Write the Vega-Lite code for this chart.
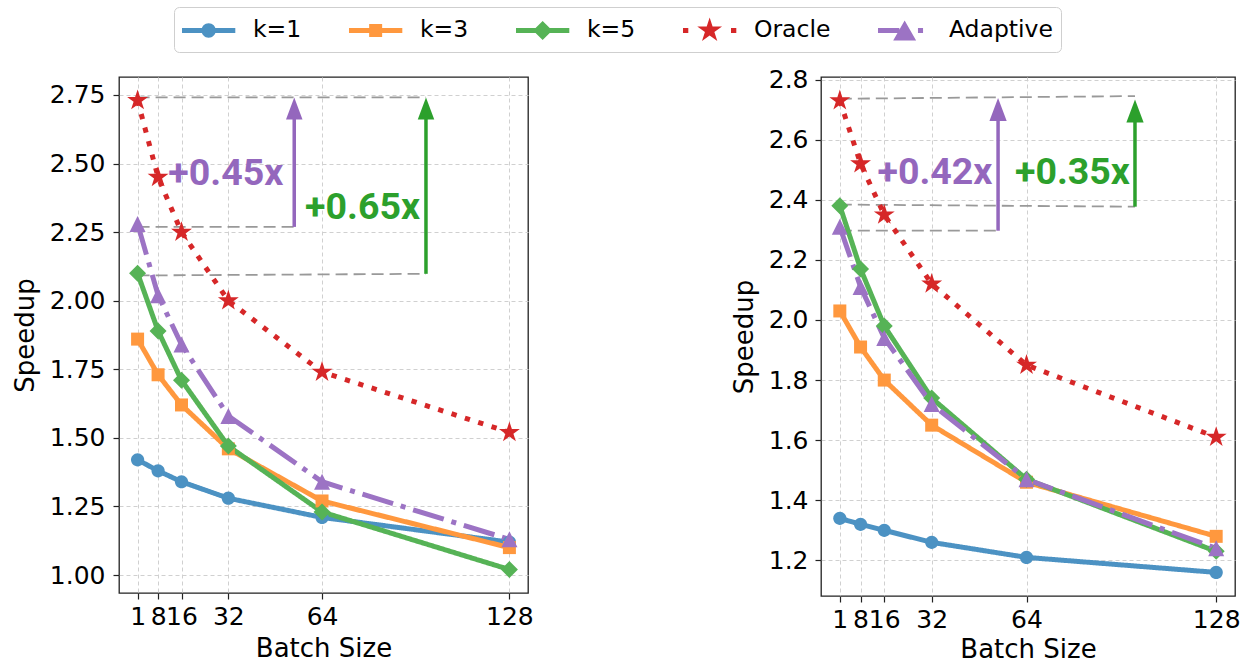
{
  "$schema": "https://vega.github.io/schema/vega-lite/v6.json",
  "background": "white",
  "padding": {"left": 11, "top": 6, "right": 2, "bottom": 0},
  "spacing": 196,
  "config": {
    "font": "DejaVu Sans",
    "view": {"stroke": "#222222", "strokeWidth": 1.3},
    "axis": {
      "labelFont": "DejaVu Sans", "labelFontSize": 25, "labelColor": "black",
      "titleFont": "DejaVu Sans", "titleFontSize": 26, "titleFontWeight": "normal", "titleColor": "black",
      "tickColor": "#222222", "tickSize": 6, "tickWidth": 1.2, "domain": false,
      "gridColor": "#d0d0d0", "gridDash": [4, 3], "gridWidth": 1
    }
  },
  "datasets": {
    "L": [
      {"x": 1, "y": 1.42, "s": "k=1"}, {"x": 8, "y": 1.38, "s": "k=1"}, {"x": 16, "y": 1.34, "s": "k=1"}, {"x": 32, "y": 1.28, "s": "k=1"}, {"x": 64, "y": 1.21, "s": "k=1"}, {"x": 128, "y": 1.12, "s": "k=1"},
      {"x": 1, "y": 1.86, "s": "k=3"}, {"x": 8, "y": 1.73, "s": "k=3"}, {"x": 16, "y": 1.62, "s": "k=3"}, {"x": 32, "y": 1.46, "s": "k=3"}, {"x": 64, "y": 1.27, "s": "k=3"}, {"x": 128, "y": 1.10, "s": "k=3"},
      {"x": 1, "y": 2.10, "s": "k=5"}, {"x": 8, "y": 1.89, "s": "k=5"}, {"x": 16, "y": 1.71, "s": "k=5"}, {"x": 32, "y": 1.47, "s": "k=5"}, {"x": 64, "y": 1.23, "s": "k=5"}, {"x": 128, "y": 1.02, "s": "k=5"},
      {"x": 1, "y": 2.73, "s": "Oracle"}, {"x": 8, "y": 2.45, "s": "Oracle"}, {"x": 16, "y": 2.25, "s": "Oracle"}, {"x": 32, "y": 2.00, "s": "Oracle"}, {"x": 64, "y": 1.74, "s": "Oracle"}, {"x": 128, "y": 1.52, "s": "Oracle"},
      {"x": 1, "y": 2.28, "s": "Adaptive"}, {"x": 8, "y": 2.02, "s": "Adaptive"}, {"x": 16, "y": 1.84, "s": "Adaptive"}, {"x": 32, "y": 1.58, "s": "Adaptive"}, {"x": 64, "y": 1.34, "s": "Adaptive"}, {"x": 128, "y": 1.13, "s": "Adaptive"}
    ],
    "R": [
      {"x": 1, "y": 1.34, "s": "k=1"}, {"x": 8, "y": 1.32, "s": "k=1"}, {"x": 16, "y": 1.30, "s": "k=1"}, {"x": 32, "y": 1.26, "s": "k=1"}, {"x": 64, "y": 1.21, "s": "k=1"}, {"x": 128, "y": 1.16, "s": "k=1"},
      {"x": 1, "y": 2.03, "s": "k=3"}, {"x": 8, "y": 1.91, "s": "k=3"}, {"x": 16, "y": 1.80, "s": "k=3"}, {"x": 32, "y": 1.65, "s": "k=3"}, {"x": 64, "y": 1.46, "s": "k=3"}, {"x": 128, "y": 1.28, "s": "k=3"},
      {"x": 1, "y": 2.38, "s": "k=5"}, {"x": 8, "y": 2.17, "s": "k=5"}, {"x": 16, "y": 1.98, "s": "k=5"}, {"x": 32, "y": 1.74, "s": "k=5"}, {"x": 64, "y": 1.47, "s": "k=5"}, {"x": 128, "y": 1.23, "s": "k=5"},
      {"x": 1, "y": 2.73, "s": "Oracle"}, {"x": 8, "y": 2.52, "s": "Oracle"}, {"x": 16, "y": 2.35, "s": "Oracle"}, {"x": 32, "y": 2.12, "s": "Oracle"}, {"x": 64, "y": 1.85, "s": "Oracle"}, {"x": 128, "y": 1.61, "s": "Oracle"},
      {"x": 1, "y": 2.31, "s": "Adaptive"}, {"x": 8, "y": 2.11, "s": "Adaptive"}, {"x": 16, "y": 1.94, "s": "Adaptive"}, {"x": 32, "y": 1.72, "s": "Adaptive"}, {"x": 64, "y": 1.47, "s": "Adaptive"}, {"x": 128, "y": 1.24, "s": "Adaptive"}
    ]
  },
  "hconcat": [
    {
      "width": 409,
      "height": 516,
      "encoding": {
        "x": {"field": "x", "type": "quantitative", "scale": {"domain": [-5.35, 134.35], "nice": false, "zero": false},
              "axis": {"title": "Batch Size", "values": [1, 8, 16, 32, 64, 128], "labelOverlap": false, "labelFlush": false, "labelBound": false, "labelPadding": 5, "titlePadding": 6}},
        "y": {"field": "y", "type": "quantitative", "scale": {"domain": [0.9345, 2.8155], "nice": false, "zero": false},
              "axis": {"title": "Speedup", "values": [1.0, 1.25, 1.5, 1.75, 2.0, 2.25, 2.5, 2.75], "format": ".2f", "labelOverlap": false, "labelFlush": false, "labelPadding": 8, "titlePadding": 11}}
      },
      "layer": [
        {
          "data": {"values": [
            {"x": 1, "y": 2.741, "x2": 99.5, "y2": 2.741},
            {"x": 1, "y": 2.269, "x2": 54.5, "y2": 2.269},
            {"x": 1, "y": 2.092, "x2": 99.5, "y2": 2.098}
          ]},
          "mark": {"type": "rule", "color": "#999999", "strokeWidth": 1.8, "strokeDash": [12, 6]},
          "encoding": {"x2": {"field": "x2"}, "y2": {"field": "y2"}}
        },
        {
          "data": {"name": "L"},
          "mark": {"type": "line", "strokeWidth": 5},
          "encoding": {
            "stroke": {"field": "s", "type": "nominal", "legend": null,
                       "scale": {"domain": ["Adaptive", "Oracle", "k=5", "k=3", "k=1"], "range": ["#9c73c4", "#d62728", "#56b356", "#ff983e", "#4c92c3"]}},
            "strokeDash": {"field": "s", "type": "nominal", "legend": null,
                           "scale": {"domain": ["Adaptive", "Oracle", "k=5", "k=3", "k=1"], "range": [[32, 8, 5, 8], [5.3, 8.7], [1, 0], [1, 0], [1, 0]]}}
          }
        },
        {
          "data": {"name": "L"}, "transform": [{"filter": "datum.s === 'k=1'"}],
          "mark": {"type": "point", "filled": true, "opacity": 1, "strokeWidth": 0, "size": 400, "color": "#4c92c3", "shape": "M-0.66,0A0.66,0.66 0 1,1 0.66,0A0.66,0.66 0 1,1 -0.66,0Z"},
          "encoding": {}
        },
        {
          "data": {"name": "L"}, "transform": [{"filter": "datum.s === 'k=3'"}],
          "mark": {"type": "point", "filled": true, "opacity": 1, "strokeWidth": 0, "size": 400, "color": "#ff983e", "shape": "M-0.65,-0.65L0.65,-0.65L0.65,0.65L-0.65,0.65Z"},
          "encoding": {}
        },
        {
          "data": {"name": "L"}, "transform": [{"filter": "datum.s === 'k=5'"}],
          "mark": {"type": "point", "filled": true, "opacity": 1, "strokeWidth": 0, "size": 400, "color": "#56b356", "shape": "M-0.85,0L0,-0.85L0.85,0L0,0.85Z"},
          "encoding": {}
        },
        {
          "data": {"name": "L"}, "transform": [{"filter": "datum.s === 'Oracle'"}],
          "mark": {"type": "point", "filled": true, "opacity": 1, "strokeWidth": 0, "size": 400, "color": "#d62728", "shape": "M0,-1.1L0.247,-0.34L1.046,-0.34L0.4,0.13L0.647,0.89L0,0.42L-0.647,0.89L-0.4,0.13L-1.046,-0.34L-0.247,-0.34Z"},
          "encoding": {}
        },
        {
          "data": {"name": "L"}, "transform": [{"filter": "datum.s === 'Adaptive'"}],
          "mark": {"type": "point", "filled": true, "opacity": 1, "strokeWidth": 0, "size": 400, "color": "#9c73c4", "shape": "M0,-0.8L0.8,0.8L-0.8,0.8Z"},
          "encoding": {}
        },
        {
          "data": {"name": "L"},
          "mark": {"type": "point", "filled": true, "opacity": 0},
          "encoding": {
            "color": {"field": "s", "type": "nominal",
                      "scale": {"domain": ["k=1", "k=3", "k=5", "Oracle", "Adaptive"], "range": ["#4c92c3", "#ff983e", "#56b356", "#d62728", "#9c73c4"]},
                      "legend": {"title": null, "orient": "none", "legendX": 55, "legendY": -70, "direction": "horizontal",
                                 "symbolSize": 900, "symbolStrokeWidth": 0, "symbolOpacity": 1, "symbolOffset": 11.65,
                                 "labelFont": "DejaVu Sans", "labelFontSize": 23.5, "labelColor": "black", "labelOffset": 29.3,
                                 "columnPadding": 46, "padding": 8, "strokeColor": "#cfcfcf", "fillColor": "white", "cornerRadius": 5}},
            "shape": {"field": "s", "type": "nominal",
                      "scale": {"domain": ["k=1", "k=3", "k=5", "Oracle", "Adaptive"], "range": [
                        "M-1.777,-0.16L-0.44,-0.16L-0.44,0.16L-1.777,0.16Z M0.44,-0.16L1.777,-0.16L1.777,0.16L0.44,0.16Z M-0.48,0A0.48,0.48 0 1,1 0.48,0A0.48,0.48 0 1,1 -0.48,0Z M0,0.87L0.001,0.87",
                        "M-1.777,-0.16L-0.43,-0.16L-0.43,0.16L-1.777,0.16Z M0.43,-0.16L1.777,-0.16L1.777,0.16L0.43,0.16Z M-0.433,-0.433L0.433,-0.433L0.433,0.433L-0.433,0.433Z M0,0.87L0.001,0.87",
                        "M-1.777,-0.16L-0.47,-0.16L-0.47,0.16L-1.777,0.16Z M0.47,-0.16L1.777,-0.16L1.777,0.16L0.47,0.16Z M-0.64,0L0,-0.64L0.64,0L0,0.64Z M0,0.87L0.001,0.87",
                        "M-1.777,-0.16L-1.424,-0.16L-1.424,0.16L-1.777,0.16Z M1.424,-0.16L1.777,-0.16L1.777,0.16L1.424,0.16Z M0,-0.867L0.195,-0.268L0.825,-0.268L0.315,0.102L0.51,0.701L0,0.331L-0.51,0.701L-0.315,0.102L-0.825,-0.268L-0.195,-0.268Z M0,0.87L0.001,0.87",
                        "M-1.777,-0.16L-0.355,-0.16L-0.355,0.16L-1.777,0.16Z M0,-0.666L0.764,0.666L-0.764,0.666Z M0.888,-0.16L1.226,-0.16L1.226,0.16L0.888,0.16Z M0,0.87L0.001,0.87"
                      ]},
                      "legend": {"title": null, "orient": "none", "legendX": 55, "legendY": -70, "direction": "horizontal",
                                 "symbolSize": 900, "symbolStrokeWidth": 0, "symbolOpacity": 1, "symbolOffset": 11.65,
                                 "labelFont": "DejaVu Sans", "labelFontSize": 23.5, "labelColor": "black", "labelOffset": 29.3,
                                 "columnPadding": 46, "padding": 8, "strokeColor": "#cfcfcf", "fillColor": "white", "cornerRadius": 5}}
          }
        },
        {
          "data": {"values": [{"x": 54.5, "y": 2.269, "y2": 2.68}]},
          "mark": {"type": "rule", "color": "#9467bd", "strokeWidth": 3.5},
          "encoding": {"y2": {"field": "y2"}}
        },
        {
          "data": {"values": [{"x": 99.5, "y": 2.098, "y2": 2.68}]},
          "mark": {"type": "rule", "color": "#2ca02c", "strokeWidth": 3.5},
          "encoding": {"y2": {"field": "y2"}}
        },
        {
          "data": {"values": [{"x": 54.5, "y": 2.741}]},
          "mark": {"type": "point", "filled": true, "opacity": 1, "color": "#9467bd", "strokeWidth": 0, "size": 484, "shape": "M0,0L-0.75,2L0.75,2Z"},
          "encoding": {}
        },
        {
          "data": {"values": [{"x": 99.5, "y": 2.741}]},
          "mark": {"type": "point", "filled": true, "opacity": 1, "color": "#2ca02c", "strokeWidth": 0, "size": 484, "shape": "M0,0L-0.75,2L0.75,2Z"},
          "encoding": {}
        },
        {
          "data": {"values": [{"x": 11.5, "y": 2.462, "t": "+0.45x"}]},
          "mark": {"type": "text", "align": "left", "baseline": "middle", "font": "Roboto", "fontWeight": "bold", "fontSize": 37.5, "color": "#9467bd"},
          "encoding": {"text": {"field": "t"}}
        },
        {
          "data": {"values": [{"x": 58.2, "y": 2.337, "t": "+0.65x"}]},
          "mark": {"type": "text", "align": "left", "baseline": "middle", "font": "Roboto", "fontWeight": "bold", "fontSize": 37.5, "color": "#2ca02c"},
          "encoding": {"text": {"field": "t"}}
        }
      ]
    },
    {
      "width": 414,
      "height": 519,
      "encoding": {
        "x": {"field": "x", "type": "quantitative", "scale": {"domain": [-5.35, 134.35], "nice": false, "zero": false},
              "axis": {"title": "Batch Size", "values": [1, 8, 16, 32, 64, 128], "labelOverlap": false, "labelFlush": false, "labelBound": false, "labelPadding": 5, "titlePadding": 4}},
        "y": {"field": "y", "type": "quantitative", "scale": {"domain": [1.0815, 2.8085], "nice": false, "zero": false},
              "axis": {"title": "Speedup", "values": [1.2, 1.4, 1.6, 1.8, 2.0, 2.2, 2.4, 2.6, 2.8], "format": ".1f", "labelOverlap": false, "labelFlush": false, "labelPadding": 7, "titlePadding": 11}}
      },
      "layer": [
        {
          "data": {"values": [
            {"x": 1, "y": 2.736, "x2": 100.6, "y2": 2.745},
            {"x": 1, "y": 2.297, "x2": 54.4, "y2": 2.297},
            {"x": 1, "y": 2.384, "x2": 100.6, "y2": 2.377}
          ]},
          "mark": {"type": "rule", "color": "#999999", "strokeWidth": 1.8, "strokeDash": [12, 6]},
          "encoding": {"x2": {"field": "x2"}, "y2": {"field": "y2"}}
        },
        {
          "data": {"name": "R"},
          "mark": {"type": "line", "strokeWidth": 5},
          "encoding": {
            "stroke": {"field": "s", "type": "nominal", "legend": null,
                       "scale": {"domain": ["Adaptive", "Oracle", "k=5", "k=3", "k=1"], "range": ["#9c73c4", "#d62728", "#56b356", "#ff983e", "#4c92c3"]}},
            "strokeDash": {"field": "s", "type": "nominal", "legend": null,
                           "scale": {"domain": ["Adaptive", "Oracle", "k=5", "k=3", "k=1"], "range": [[32, 8, 5, 8], [5.3, 8.7], [1, 0], [1, 0], [1, 0]]}}
          }
        },
        {
          "data": {"name": "R"}, "transform": [{"filter": "datum.s === 'k=1'"}],
          "mark": {"type": "point", "filled": true, "opacity": 1, "strokeWidth": 0, "size": 400, "color": "#4c92c3", "shape": "M-0.66,0A0.66,0.66 0 1,1 0.66,0A0.66,0.66 0 1,1 -0.66,0Z"},
          "encoding": {}
        },
        {
          "data": {"name": "R"}, "transform": [{"filter": "datum.s === 'k=3'"}],
          "mark": {"type": "point", "filled": true, "opacity": 1, "strokeWidth": 0, "size": 400, "color": "#ff983e", "shape": "M-0.65,-0.65L0.65,-0.65L0.65,0.65L-0.65,0.65Z"},
          "encoding": {}
        },
        {
          "data": {"name": "R"}, "transform": [{"filter": "datum.s === 'k=5'"}],
          "mark": {"type": "point", "filled": true, "opacity": 1, "strokeWidth": 0, "size": 400, "color": "#56b356", "shape": "M-0.85,0L0,-0.85L0.85,0L0,0.85Z"},
          "encoding": {}
        },
        {
          "data": {"name": "R"}, "transform": [{"filter": "datum.s === 'Oracle'"}],
          "mark": {"type": "point", "filled": true, "opacity": 1, "strokeWidth": 0, "size": 400, "color": "#d62728", "shape": "M0,-1.1L0.247,-0.34L1.046,-0.34L0.4,0.13L0.647,0.89L0,0.42L-0.647,0.89L-0.4,0.13L-1.046,-0.34L-0.247,-0.34Z"},
          "encoding": {}
        },
        {
          "data": {"name": "R"}, "transform": [{"filter": "datum.s === 'Adaptive'"}],
          "mark": {"type": "point", "filled": true, "opacity": 1, "strokeWidth": 0, "size": 400, "color": "#9c73c4", "shape": "M0,-0.8L0.8,0.8L-0.8,0.8Z"},
          "encoding": {}
        },
        {
          "data": {"values": [{"x": 54.4, "y": 2.297, "y2": 2.68}]},
          "mark": {"type": "rule", "color": "#9467bd", "strokeWidth": 3.5},
          "encoding": {"y2": {"field": "y2"}}
        },
        {
          "data": {"values": [{"x": 100.6, "y": 2.377, "y2": 2.68}]},
          "mark": {"type": "rule", "color": "#2ca02c", "strokeWidth": 3.5},
          "encoding": {"y2": {"field": "y2"}}
        },
        {
          "data": {"values": [{"x": 54.4, "y": 2.739}]},
          "mark": {"type": "point", "filled": true, "opacity": 1, "color": "#9467bd", "strokeWidth": 0, "size": 529, "shape": "M0,0L-0.75,2L0.75,2Z"},
          "encoding": {}
        },
        {
          "data": {"values": [{"x": 100.6, "y": 2.734}]},
          "mark": {"type": "point", "filled": true, "opacity": 1, "color": "#2ca02c", "strokeWidth": 0, "size": 529, "shape": "M0,0L-0.75,2L0.75,2Z"},
          "encoding": {}
        },
        {
          "data": {"values": [{"x": 13.7, "y": 2.488, "t": "+0.42x"}]},
          "mark": {"type": "text", "align": "left", "baseline": "middle", "font": "Roboto", "fontWeight": "bold", "fontSize": 37.5, "color": "#9467bd"},
          "encoding": {"text": {"field": "t"}}
        },
        {
          "data": {"values": [{"x": 60.1, "y": 2.488, "t": "+0.35x"}]},
          "mark": {"type": "text", "align": "left", "baseline": "middle", "font": "Roboto", "fontWeight": "bold", "fontSize": 37.5, "color": "#2ca02c"},
          "encoding": {"text": {"field": "t"}}
        }
      ]
    }
  ]
}
